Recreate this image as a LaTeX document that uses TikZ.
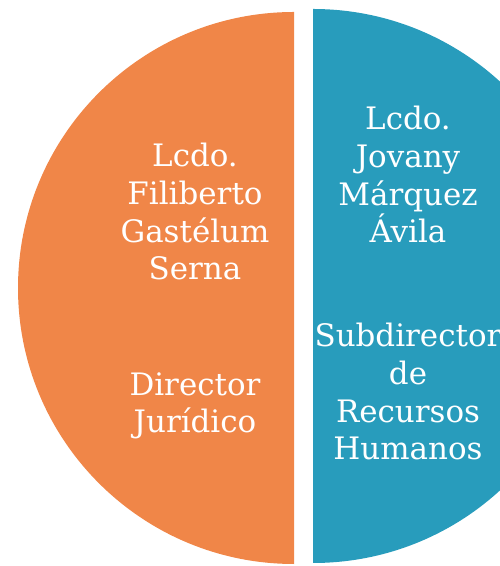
\documentclass[tikz,border=0pt]{standalone}
\usepackage{fontspec}
\setmainfont{DejaVu Serif}
\usetikzlibrary{positioning}

\definecolor{juridico}{RGB}{240,134,72}
\definecolor{recursos}{RGB}{40,156,188}

\begin{document}
\begin{tikzpicture}[
    person/.style={text=white, align=center, anchor=base, font=\fontsize{17.6}{21.6}\selectfont}
]

% Page
\useasboundingbox (0,0) rectangle (10,11.32);
\clip (0,0) rectangle (10,11.32);

% Left half
\coordinate (lc) at (5.88,5.56);
\begin{scope}
\clip (0,0) rectangle (5.88,11.32);
\fill[juridico] (lc) circle (5.52);
\end{scope}

% Right half
\coordinate (rc) at (6.26,5.60);
\begin{scope}
\clip (6.26,0) rectangle (12,11.32);
\fill[recursos] (rc) circle (5.54);
\end{scope}

% Names and posts
\node[person] (leftname) at (3.9,5.72) {Lcdo.\\Filiberto\\Gastélum\\Serna};
\node[person] (lefttitle) at (3.9,2.66) {Director\\Jurídico};

\node[person] (rightname) at (8.16,6.46) {Lcdo.\\Jovany\\Márquez\\Ávila};
\node[person] (righttitle) at (8.16,2.12) {Subdirector\\de\\Recursos\\Humanos};

\end{tikzpicture}
\end{document}
